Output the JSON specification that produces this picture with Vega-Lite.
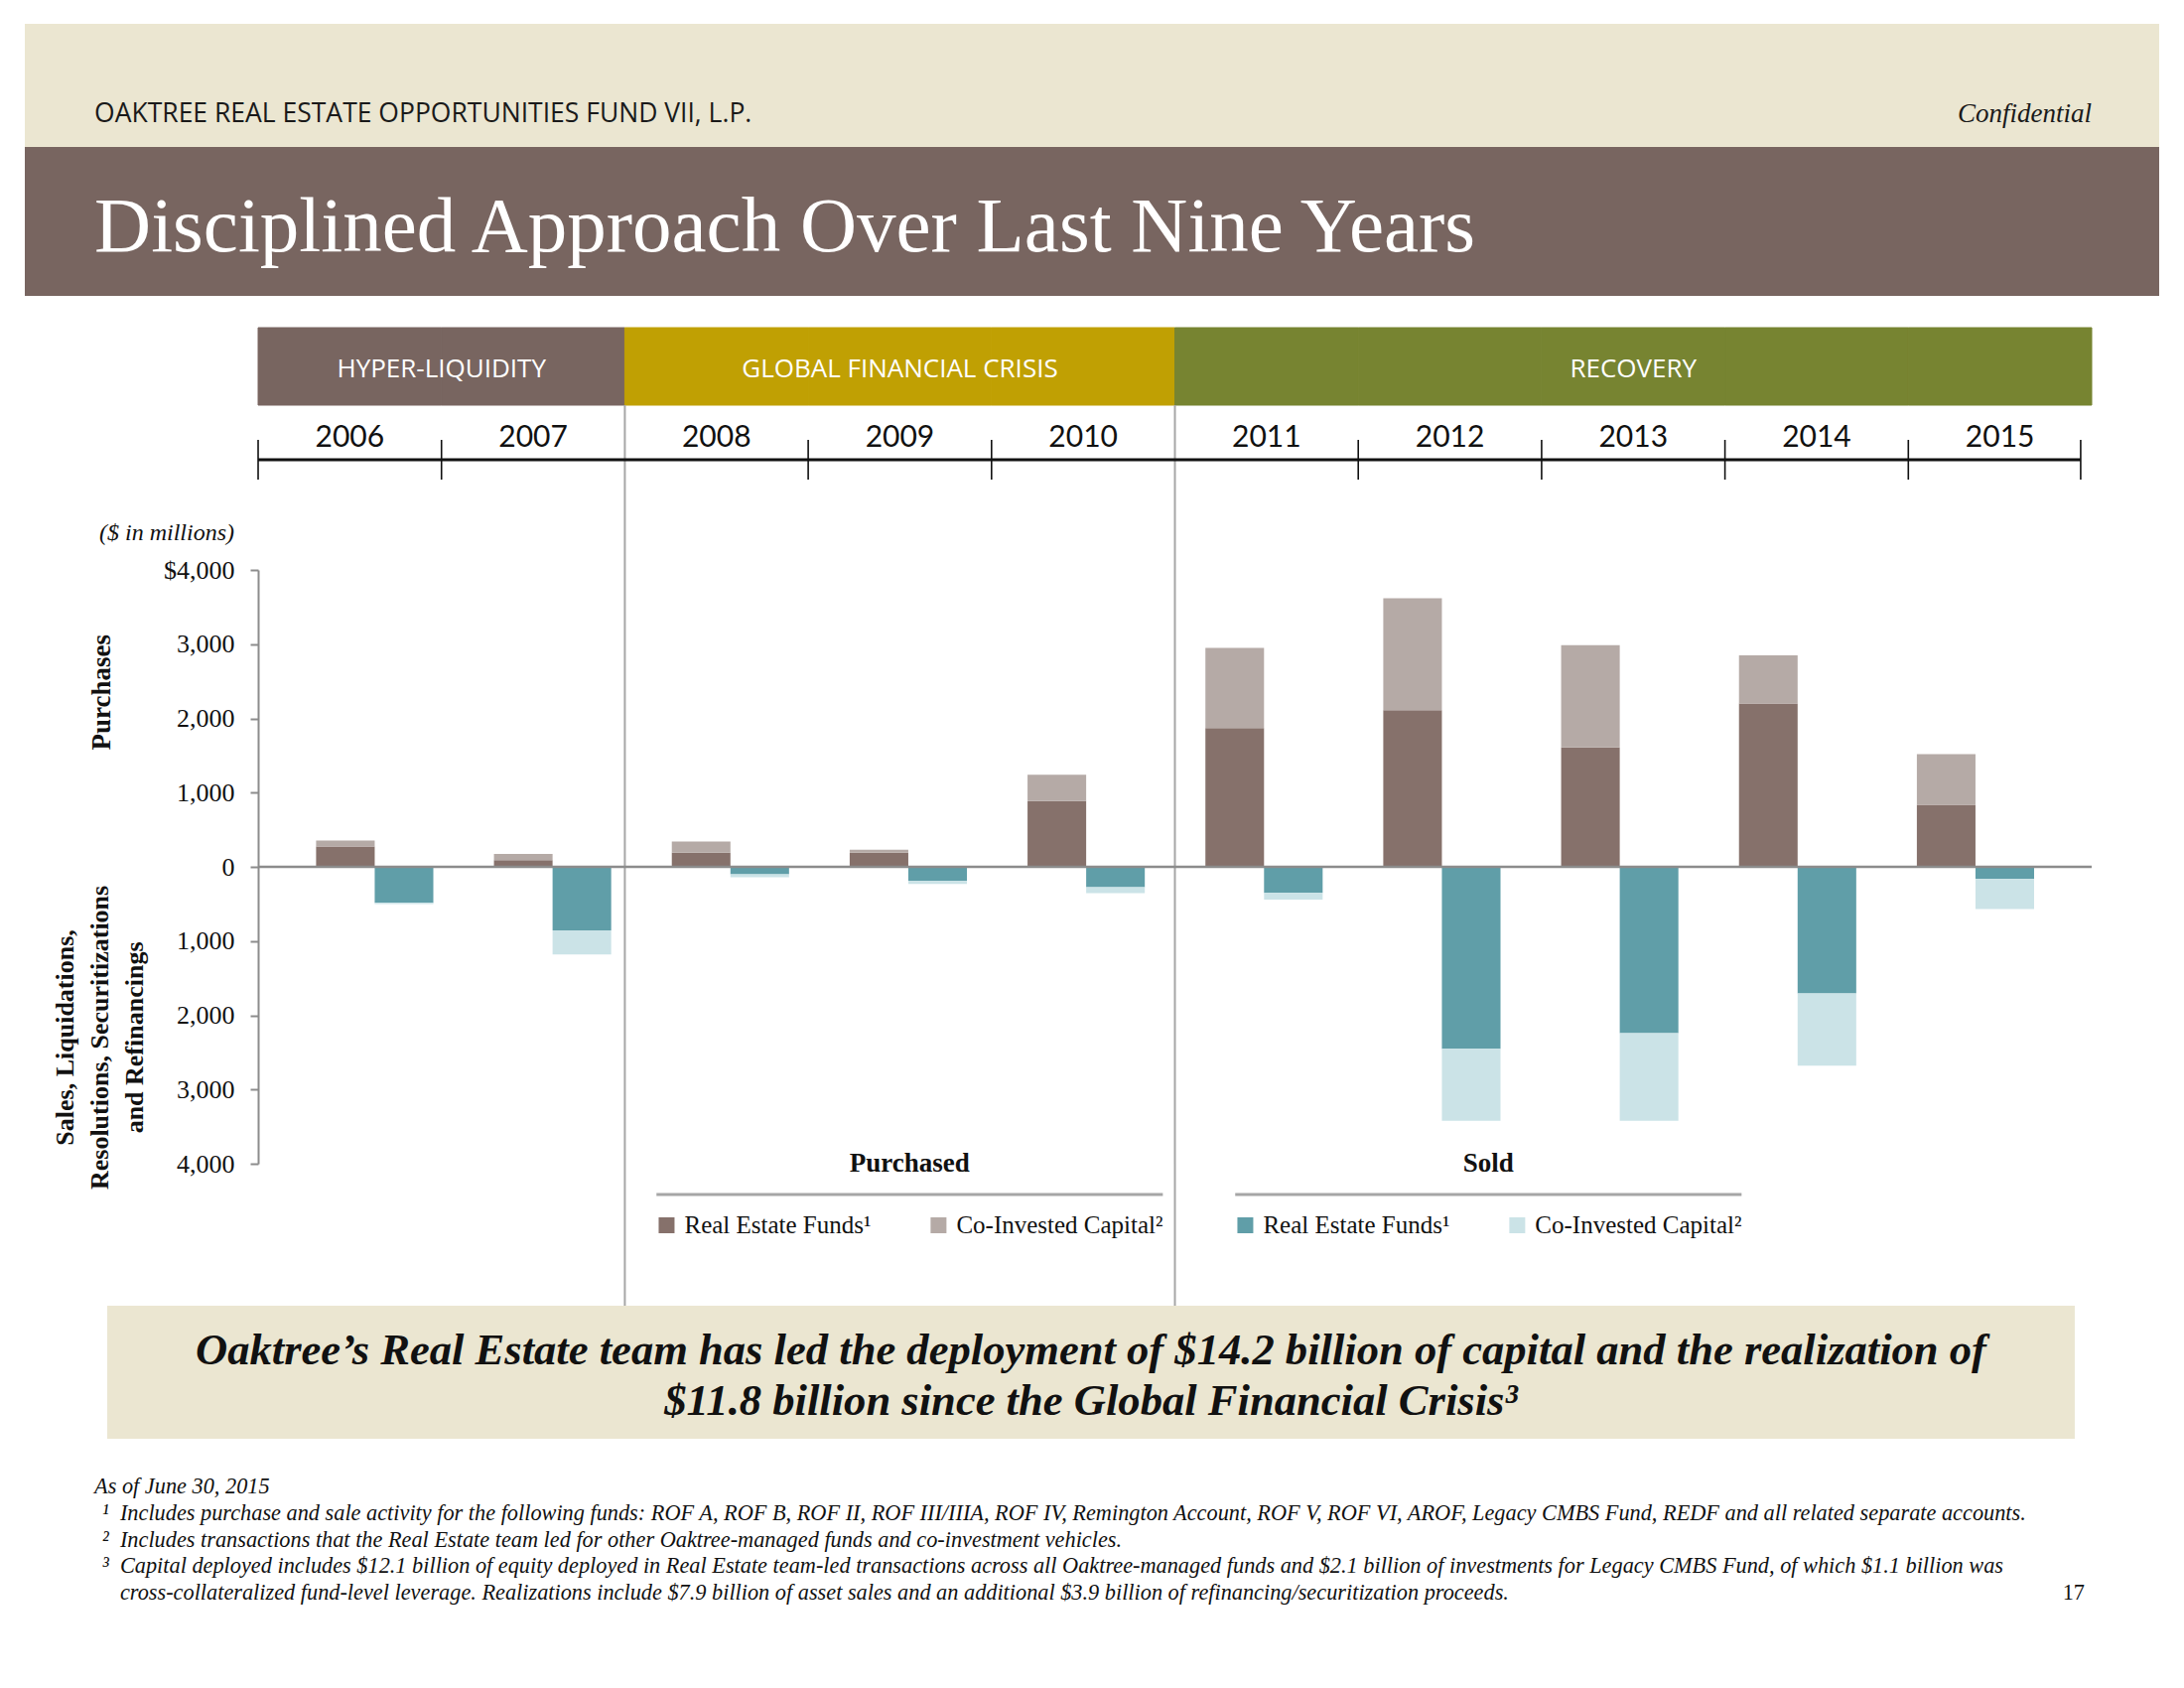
{
  "$schema": "https://vega.github.io/schema/vega-lite/v6.json",
  "background": "white",
  "padding": {"left": 25, "top": 24, "right": 25, "bottom": 48},
  "autosize": {"type": "pad"},
  "spacing": 0,
  "bounds": "flush",
  "config": {"view": {"stroke": null}, "text": {"font": "Liberation Serif"}},
  "resolve": {"scale": {"color": "independent", "stroke": "independent", "xOffset": "independent"}},
  "datasets": {
    "flows": [
      {"year": "2006", "flow": "Purchased", "source": "Real Estate Funds", "series": "Purchased · Real Estate Funds", "value": 275},
      {"year": "2006", "flow": "Purchased", "source": "Co-Invested Capital", "series": "Purchased · Co-Invested Capital", "value": 80},
      {"year": "2006", "flow": "Sold", "source": "Real Estate Funds", "series": "Sold · Real Estate Funds", "value": -485},
      {"year": "2006", "flow": "Sold", "source": "Co-Invested Capital", "series": "Sold · Co-Invested Capital", "value": -15},
      {"year": "2007", "flow": "Purchased", "source": "Real Estate Funds", "series": "Purchased · Real Estate Funds", "value": 90},
      {"year": "2007", "flow": "Purchased", "source": "Co-Invested Capital", "series": "Purchased · Co-Invested Capital", "value": 85},
      {"year": "2007", "flow": "Sold", "source": "Real Estate Funds", "series": "Sold · Real Estate Funds", "value": -855},
      {"year": "2007", "flow": "Sold", "source": "Co-Invested Capital", "series": "Sold · Co-Invested Capital", "value": -325},
      {"year": "2008", "flow": "Purchased", "source": "Real Estate Funds", "series": "Purchased · Real Estate Funds", "value": 190},
      {"year": "2008", "flow": "Purchased", "source": "Co-Invested Capital", "series": "Purchased · Co-Invested Capital", "value": 150},
      {"year": "2008", "flow": "Sold", "source": "Real Estate Funds", "series": "Sold · Real Estate Funds", "value": -100},
      {"year": "2008", "flow": "Sold", "source": "Co-Invested Capital", "series": "Sold · Co-Invested Capital", "value": -40},
      {"year": "2009", "flow": "Purchased", "source": "Real Estate Funds", "series": "Purchased · Real Estate Funds", "value": 190},
      {"year": "2009", "flow": "Purchased", "source": "Co-Invested Capital", "series": "Purchased · Co-Invested Capital", "value": 40},
      {"year": "2009", "flow": "Sold", "source": "Real Estate Funds", "series": "Sold · Real Estate Funds", "value": -190},
      {"year": "2009", "flow": "Sold", "source": "Co-Invested Capital", "series": "Sold · Co-Invested Capital", "value": -40},
      {"year": "2010", "flow": "Purchased", "source": "Real Estate Funds", "series": "Purchased · Real Estate Funds", "value": 885},
      {"year": "2010", "flow": "Purchased", "source": "Co-Invested Capital", "series": "Purchased · Co-Invested Capital", "value": 355},
      {"year": "2010", "flow": "Sold", "source": "Real Estate Funds", "series": "Sold · Real Estate Funds", "value": -275},
      {"year": "2010", "flow": "Sold", "source": "Co-Invested Capital", "series": "Sold · Co-Invested Capital", "value": -80},
      {"year": "2011", "flow": "Purchased", "source": "Real Estate Funds", "series": "Purchased · Real Estate Funds", "value": 1870},
      {"year": "2011", "flow": "Purchased", "source": "Co-Invested Capital", "series": "Purchased · Co-Invested Capital", "value": 1080},
      {"year": "2011", "flow": "Sold", "source": "Real Estate Funds", "series": "Sold · Real Estate Funds", "value": -350},
      {"year": "2011", "flow": "Sold", "source": "Co-Invested Capital", "series": "Sold · Co-Invested Capital", "value": -90},
      {"year": "2012", "flow": "Purchased", "source": "Real Estate Funds", "series": "Purchased · Real Estate Funds", "value": 2110},
      {"year": "2012", "flow": "Purchased", "source": "Co-Invested Capital", "series": "Purchased · Co-Invested Capital", "value": 1510},
      {"year": "2012", "flow": "Sold", "source": "Real Estate Funds", "series": "Sold · Real Estate Funds", "value": -2450},
      {"year": "2012", "flow": "Sold", "source": "Co-Invested Capital", "series": "Sold · Co-Invested Capital", "value": -970},
      {"year": "2013", "flow": "Purchased", "source": "Real Estate Funds", "series": "Purchased · Real Estate Funds", "value": 1610},
      {"year": "2013", "flow": "Purchased", "source": "Co-Invested Capital", "series": "Purchased · Co-Invested Capital", "value": 1375},
      {"year": "2013", "flow": "Sold", "source": "Real Estate Funds", "series": "Sold · Real Estate Funds", "value": -2240},
      {"year": "2013", "flow": "Sold", "source": "Co-Invested Capital", "series": "Sold · Co-Invested Capital", "value": -1180},
      {"year": "2014", "flow": "Purchased", "source": "Real Estate Funds", "series": "Purchased · Real Estate Funds", "value": 2200},
      {"year": "2014", "flow": "Purchased", "source": "Co-Invested Capital", "series": "Purchased · Co-Invested Capital", "value": 650},
      {"year": "2014", "flow": "Sold", "source": "Real Estate Funds", "series": "Sold · Real Estate Funds", "value": -1705},
      {"year": "2014", "flow": "Sold", "source": "Co-Invested Capital", "series": "Sold · Co-Invested Capital", "value": -975},
      {"year": "2015", "flow": "Purchased", "source": "Real Estate Funds", "series": "Purchased · Real Estate Funds", "value": 835},
      {"year": "2015", "flow": "Purchased", "source": "Co-Invested Capital", "series": "Purchased · Co-Invested Capital", "value": 685},
      {"year": "2015", "flow": "Sold", "source": "Real Estate Funds", "series": "Sold · Real Estate Funds", "value": -165},
      {"year": "2015", "flow": "Sold", "source": "Co-Invested Capital", "series": "Sold · Co-Invested Capital", "value": -405}
    ],
    "years": [
      {"year": "2006", "period": "HYPER-LIQUIDITY"},
      {"year": "2007", "period": "HYPER-LIQUIDITY"},
      {"year": "2008", "period": "GLOBAL FINANCIAL CRISIS"},
      {"year": "2009", "period": "GLOBAL FINANCIAL CRISIS"},
      {"year": "2010", "period": "GLOBAL FINANCIAL CRISIS"},
      {"year": "2011", "period": "RECOVERY"},
      {"year": "2012", "period": "RECOVERY"},
      {"year": "2013", "period": "RECOVERY"},
      {"year": "2014", "period": "RECOVERY"},
      {"year": "2015", "period": "RECOVERY"}
    ],
    "ticks": [{"year": "2006"}, {"year": "2007"}, {"year": "2009"}, {"year": "2010"}, {"year": "2012"}, {"year": "2013"}, {"year": "2014"}, {"year": "2015"}],
    "dividers": [{"year": "2008"}, {"year": "2011"}],
    "legendGroups": [{"group": "Purchased"}, {"group": "Sold"}],
    "legendItems": [
      {"group": "Purchased", "source": "Real Estate Funds", "series": "Purchased · Real Estate Funds", "label": "Real Estate Funds¹"},
      {"group": "Purchased", "source": "Co-Invested Capital", "series": "Purchased · Co-Invested Capital", "label": "Co-Invested Capital²"},
      {"group": "Sold", "source": "Real Estate Funds", "series": "Sold · Real Estate Funds", "label": "Real Estate Funds¹"},
      {"group": "Sold", "source": "Co-Invested Capital", "series": "Sold · Co-Invested Capital", "label": "Co-Invested Capital²"}
    ]
  },
  "vconcat": [
    {
      "width": 2150, "height": 58,
      "view": {"fill": "#EBE6D1"},
      "data": {"values": []},
      "mark": "text"
    },
    {
      "width": 2150, "height": 66,
      "view": {"fill": "#EBE6D1"},
      "layer": [
        {
          "data": {"values": [{"label": "OAKTREE REAL ESTATE OPPORTUNITIES FUND VII, L.P."}]},
          "mark": {"type": "text", "align": "left", "baseline": "middle", "font": "Open Sans", "fontSize": 26.5, "color": "#1a1a1a"},
          "encoding": {
            "x": {"datum": "2006", "type": "nominal", "bandPosition": -0.893, "axis": null,
                  "scale": {"type": "band", "domain": ["2006","2007","2008","2009","2010","2011","2012","2013","2014","2015"], "paddingInner": 0, "paddingOuter": 0.8203, "align": 0.7756}},
            "text": {"field": "label"}
          }
        },
        {
          "data": {"values": [{"label": "Confidential"}]},
          "mark": {"type": "text", "align": "right", "baseline": "middle", "font": "Liberation Serif", "fontStyle": "italic", "fontSize": 27, "color": "#1a1a1a"},
          "encoding": {
            "x": {"datum": "2015", "type": "nominal", "bandPosition": 1, "axis": null,
                  "scale": {"type": "band", "domain": ["2006","2007","2008","2009","2010","2011","2012","2013","2014","2015"], "paddingInner": 0, "paddingOuter": 0.8203, "align": 0.7756}},
            "text": {"field": "label"}
          }
        }
      ]
    },
    {
      "width": 2150, "height": 150,
      "view": {"fill": "#786560"},
      "data": {"values": [{"label": "Disciplined Approach Over Last Nine Years"}]},
      "mark": {"type": "text", "align": "left", "baseline": "middle", "dy": 6, "font": "Liberation Serif", "fontSize": 79, "color": "white"},
      "encoding": {
        "x": {"datum": "2006", "type": "nominal", "bandPosition": -0.893, "axis": null,
              "scale": {"type": "band", "domain": ["2006","2007","2008","2009","2010","2011","2012","2013","2014","2015"], "paddingInner": 0, "paddingOuter": 0.8203, "align": 0.7756}},
        "text": {"field": "label"}
      }
    },
    {
      "width": 2150, "height": 32,
      "data": {"values": []},
      "mark": "text"
    },
    {
      "width": 2150, "height": 78,
      "layer": [
        {
          "data": {"name": "years"},
          "mark": {"type": "rect", "strokeWidth": 1},
          "encoding": {
            "x": {"field": "year", "type": "nominal", "axis": null,
                  "scale": {"type": "band", "domain": ["2006","2007","2008","2009","2010","2011","2012","2013","2014","2015"], "paddingInner": 0, "paddingOuter": 0.8203, "align": 0.7756}},
            "color": {"field": "period", "type": "nominal", "legend": null,
                      "scale": {"domain": ["HYPER-LIQUIDITY", "GLOBAL FINANCIAL CRISIS", "RECOVERY"], "range": ["#786560", "#C0A003", "#778431"]}},
            "stroke": {"field": "period", "type": "nominal", "legend": null,
                      "scale": {"domain": ["HYPER-LIQUIDITY", "GLOBAL FINANCIAL CRISIS", "RECOVERY"], "range": ["#786560", "#C0A003", "#778431"]}}
          }
        },
        {
          "data": {"values": [{"period": "HYPER-LIQUIDITY", "at": "2007"}]},
          "mark": {"type": "text", "align": "center", "baseline": "middle", "dy": 3, "font": "Open Sans", "fontSize": 26, "color": "white"},
          "encoding": {
            "x": {"field": "at", "type": "nominal", "bandPosition": 0, "axis": null,
                  "scale": {"type": "band", "domain": ["2006","2007","2008","2009","2010","2011","2012","2013","2014","2015"], "paddingInner": 0, "paddingOuter": 0.8203, "align": 0.7756}},
            "text": {"field": "period"}
          }
        },
        {
          "data": {"values": [{"period": "GLOBAL FINANCIAL CRISIS", "at": "2009"}, {"period": "RECOVERY", "at": "2013"}]},
          "mark": {"type": "text", "align": "center", "baseline": "middle", "dy": 3, "font": "Open Sans", "fontSize": 26, "color": "white"},
          "encoding": {
            "x": {"field": "at", "type": "nominal", "bandPosition": 0.5, "axis": null,
                  "scale": {"type": "band", "domain": ["2006","2007","2008","2009","2010","2011","2012","2013","2014","2015"], "paddingInner": 0, "paddingOuter": 0.8203, "align": 0.7756}},
            "text": {"field": "period"}
          }
        }
      ]
    },
    {
      "width": 2150, "height": 166,
      "layer": [
        {
          "data": {"name": "dividers"},
          "mark": {"type": "rule", "color": "#A6A6A6", "strokeWidth": 2},
          "encoding": {
            "x": {"field": "year", "type": "nominal", "bandPosition": 0, "axis": null,
                  "scale": {"type": "band", "domain": ["2006","2007","2008","2009","2010","2011","2012","2013","2014","2015"], "paddingInner": 0, "paddingOuter": 0.8203, "align": 0.7756}}
          }
        },
        {
          "data": {"name": "ticks"},
          "mark": {"type": "rule", "color": "#111", "strokeWidth": 1.6},
          "encoding": {
            "x": {"field": "year", "type": "nominal", "bandPosition": 0, "axis": null,
                  "scale": {"type": "band", "domain": ["2006","2007","2008","2009","2010","2011","2012","2013","2014","2015"], "paddingInner": 0, "paddingOuter": 0.8203, "align": 0.7756}},
            "y": {"datum": 0.789, "type": "quantitative", "axis": null, "scale": {"domain": [0, 1], "nice": false, "zero": false}},
            "y2": {"datum": 0.548}
          }
        },
        {
          "data": {"values": [{"year": "2015"}]},
          "mark": {"type": "rule", "color": "#111", "strokeWidth": 1.6},
          "encoding": {
            "x": {"field": "year", "type": "nominal", "bandPosition": 0.94, "axis": null,
                  "scale": {"type": "band", "domain": ["2006","2007","2008","2009","2010","2011","2012","2013","2014","2015"], "paddingInner": 0, "paddingOuter": 0.8203, "align": 0.7756}},
            "y": {"datum": 0.789, "type": "quantitative", "axis": null, "scale": {"domain": [0, 1], "nice": false, "zero": false}},
            "y2": {"datum": 0.548}
          }
        },
        {
          "data": {"values": [{"from": "2006", "to": "2015"}]},
          "mark": {"type": "rule", "color": "#111", "strokeWidth": 3},
          "encoding": {
            "x": {"field": "from", "type": "nominal", "bandPosition": 0, "axis": null,
                  "scale": {"type": "band", "domain": ["2006","2007","2008","2009","2010","2011","2012","2013","2014","2015"], "paddingInner": 0, "paddingOuter": 0.8203, "align": 0.7756}},
            "x2": {"field": "to", "bandPosition": 0.94},
            "y": {"datum": 0.669, "type": "quantitative", "axis": null, "scale": {"domain": [0, 1], "nice": false, "zero": false}}
          }
        },
        {
          "data": {"name": "years"},
          "mark": {"type": "text", "align": "center", "baseline": "alphabetic", "font": "Lato", "fontSize": 30, "color": "#111"},
          "encoding": {
            "x": {"field": "year", "type": "nominal", "bandPosition": 0.5, "axis": null,
                  "scale": {"type": "band", "domain": ["2006","2007","2008","2009","2010","2011","2012","2013","2014","2015"], "paddingInner": 0, "paddingOuter": 0.8203, "align": 0.7756}},
            "y": {"datum": 0.747, "type": "quantitative", "axis": null, "scale": {"domain": [0, 1], "nice": false, "zero": false}},
            "text": {"field": "year"}
          }
        },
        {
          "data": {"values": [{"label": "($ in millions)"}]},
          "mark": {"type": "text", "align": "center", "baseline": "middle", "font": "Liberation Serif", "fontStyle": "italic", "fontSize": 24, "color": "#111"},
          "encoding": {
            "x": {"datum": "2006", "type": "nominal", "bandPosition": -0.498, "axis": null,
                  "scale": {"type": "band", "domain": ["2006","2007","2008","2009","2010","2011","2012","2013","2014","2015"], "paddingInner": 0, "paddingOuter": 0.8203, "align": 0.7756}},
            "y": {"datum": 0.223, "type": "quantitative", "axis": null, "scale": {"domain": [0, 1], "nice": false, "zero": false}},
            "text": {"field": "label"}
          }
        }
      ]
    },
    {
      "width": 2150, "height": 598,
      "resolve": {"scale": {"x": "independent"}},
      "layer": [
        {
          "data": {"name": "dividers"},
          "mark": {"type": "rule", "color": "#A6A6A6", "strokeWidth": 2},
          "encoding": {
            "x": {"field": "year", "type": "nominal", "bandPosition": 0, "axis": null,
                  "scale": {"type": "band", "domain": ["2006","2007","2008","2009","2010","2011","2012","2013","2014","2015"], "paddingInner": 0, "paddingOuter": 0.8203, "align": 0.7756}}
          }
        },
        {
          "data": {"name": "flows"},
          "mark": {"type": "bar"},
          "encoding": {
            "x": {"field": "year", "type": "nominal", "axis": null,
                  "scale": {"type": "band", "domain": ["2006","2007","2008","2009","2010","2011","2012","2013","2014","2015"], "paddingInner": 0, "paddingOuter": 1, "align": 0.7336}},
            "xOffset": {"field": "flow", "type": "nominal", "scale": {"domain": ["Purchased", "Sold"], "paddingInner": 0, "paddingOuter": 0.517}},
            "y": {"field": "value", "type": "quantitative", "stack": "zero",
                  "scale": {"domain": [-4000, 4000], "nice": false},
                  "axis": {"orient": "left", "offset": -235, "title": null, "grid": false,
                           "values": [-4000, -3000, -2000, -1000, 0, 1000, 2000, 3000, 4000],
                           "labelExpr": "datum.value == 4000 ? '$4,000' : format(abs(datum.value), ',')",
                           "domainColor": "#8C8C8C", "domainWidth": 2, "tickColor": "#8C8C8C", "tickWidth": 2, "tickSize": 8,
                           "labelFont": "Liberation Serif", "labelFontSize": 26, "labelColor": "#111", "labelPadding": 16}},
            "color": {"field": "series", "type": "nominal", "legend": null,
                      "scale": {"domain": ["Purchased · Real Estate Funds", "Purchased · Co-Invested Capital", "Sold · Real Estate Funds", "Sold · Co-Invested Capital"],
                                "range": ["#86716B", "#B5AAA6", "#609EA8", "#CBE3E7"]}},
            "order": {"field": "source", "sort": "descending"}
          }
        },
        {
          "data": {"values": [{"from": "2006", "to": "2015"}]},
          "mark": {"type": "rule", "color": "#8C8C8C", "strokeWidth": 2.5},
          "encoding": {
            "x": {"field": "from", "type": "nominal", "bandPosition": 0, "axis": null,
                  "scale": {"type": "band", "domain": ["2006","2007","2008","2009","2010","2011","2012","2013","2014","2015"], "paddingInner": 0, "paddingOuter": 0.8203, "align": 0.7756}},
            "x2": {"field": "to", "bandPosition": 1},
            "y": {"datum": 0, "type": "quantitative"}
          }
        },
        {
          "data": {"values": [{"label": "Purchases", "at": 2350}]},
          "mark": {"type": "text", "angle": 270, "align": "center", "baseline": "middle", "font": "Liberation Serif", "fontWeight": "bold", "fontSize": 27, "color": "#111"},
          "encoding": {
            "x": {"datum": "2006", "type": "nominal", "bandPosition": -0.85, "axis": null,
                  "scale": {"type": "band", "domain": ["2006","2007","2008","2009","2010","2011","2012","2013","2014","2015"], "paddingInner": 0, "paddingOuter": 0.8203, "align": 0.7756}},
            "y": {"field": "at", "type": "quantitative"},
            "text": {"field": "label"}
          }
        },
        {
          "data": {"values": [{"at": -2300}]},
          "mark": {"type": "text", "angle": 270, "align": "center", "baseline": "middle", "font": "Liberation Serif", "fontWeight": "bold", "fontSize": 26, "lineHeight": 35, "color": "#111"},
          "encoding": {
            "x": {"datum": "2006", "type": "nominal", "bandPosition": -1.05, "axis": null,
                  "scale": {"type": "band", "domain": ["2006","2007","2008","2009","2010","2011","2012","2013","2014","2015"], "paddingInner": 0, "paddingOuter": 0.8203, "align": 0.7756}},
            "y": {"field": "at", "type": "quantitative"},
            "text": {"value": ["Sales, Liquidations,", "Resolutions, Securitizations", "and Refinancings"]}
          }
        }
      ]
    },
    {
      "width": 2150, "height": 143,
      "resolve": {"scale": {"x": "independent"}},
      "layer": [
        {
          "data": {"name": "dividers"},
          "mark": {"type": "rule", "color": "#A6A6A6", "strokeWidth": 2},
          "encoding": {
            "x": {"field": "year", "type": "nominal", "bandPosition": 0, "axis": null,
                  "scale": {"type": "band", "domain": ["2006","2007","2008","2009","2010","2011","2012","2013","2014","2015"], "paddingInner": 0, "paddingOuter": 0.8203, "align": 0.7756}}
          }
        },
        {
          "data": {"name": "legendGroups"},
          "mark": {"type": "text", "align": "center", "baseline": "middle", "font": "Liberation Serif", "fontWeight": "bold", "fontSize": 27, "color": "#111"},
          "encoding": {
            "x": {"field": "group", "type": "nominal", "axis": null,
                  "scale": {"type": "band", "domain": ["Purchased", "Sold"], "paddingInner": 0.125, "paddingOuter": 0.9065, "align": 0.602}},
            "y": {"datum": "title", "type": "nominal", "axis": null,
                  "scale": {"type": "point", "domain": ["title", "rule", "item", "pad"], "padding": 0.806, "align": 0}},
            "text": {"field": "group"}
          }
        },
        {
          "data": {"name": "legendGroups"},
          "mark": {"type": "rule", "color": "#A6A6A6", "strokeWidth": 3},
          "encoding": {
            "x": {"field": "group", "type": "nominal", "bandPosition": 0, "axis": null,
                  "scale": {"type": "band", "domain": ["Purchased", "Sold"], "paddingInner": 0.125, "paddingOuter": 0.9065, "align": 0.602}},
            "x2": {"field": "group", "bandPosition": 1},
            "y": {"datum": "rule", "type": "nominal", "axis": null,
                  "scale": {"type": "point", "domain": ["title", "rule", "item", "pad"], "padding": 0.806, "align": 0}}
          }
        },
        {
          "data": {"name": "legendItems"},
          "transform": [{"filter": "datum.source == 'Real Estate Funds'"}],
          "mark": {"type": "point", "shape": "square", "filled": true, "size": 256, "opacity": 1},
          "encoding": {
            "x": {"field": "group", "type": "nominal", "bandPosition": 0.02, "axis": null,
                  "scale": {"type": "band", "domain": ["Purchased", "Sold"], "paddingInner": 0.125, "paddingOuter": 0.9065, "align": 0.602}},
            "y": {"datum": "item", "type": "nominal", "axis": null,
                  "scale": {"type": "point", "domain": ["title", "rule", "item", "pad"], "padding": 0.806, "align": 0}},
            "color": {"field": "series", "type": "nominal", "legend": null,
                      "scale": {"domain": ["Purchased · Real Estate Funds", "Purchased · Co-Invested Capital", "Sold · Real Estate Funds", "Sold · Co-Invested Capital"],
                                "range": ["#86716B", "#B5AAA6", "#609EA8", "#CBE3E7"]}}
          }
        },
        {
          "data": {"name": "legendItems"},
          "transform": [{"filter": "datum.source == 'Co-Invested Capital'"}],
          "mark": {"type": "point", "shape": "square", "filled": true, "size": 256, "opacity": 1},
          "encoding": {
            "x": {"field": "group", "type": "nominal", "bandPosition": 0.557, "axis": null,
                  "scale": {"type": "band", "domain": ["Purchased", "Sold"], "paddingInner": 0.125, "paddingOuter": 0.9065, "align": 0.602}},
            "y": {"datum": "item", "type": "nominal", "axis": null,
                  "scale": {"type": "point", "domain": ["title", "rule", "item", "pad"], "padding": 0.806, "align": 0}},
            "color": {"field": "series", "type": "nominal", "legend": null,
                      "scale": {"domain": ["Purchased · Real Estate Funds", "Purchased · Co-Invested Capital", "Sold · Real Estate Funds", "Sold · Co-Invested Capital"],
                                "range": ["#86716B", "#B5AAA6", "#609EA8", "#CBE3E7"]}}
          }
        },
        {
          "data": {"name": "legendItems"},
          "transform": [{"filter": "datum.source == 'Real Estate Funds'"}],
          "mark": {"type": "text", "align": "left", "baseline": "middle", "dx": 18, "font": "Liberation Serif", "fontSize": 25, "color": "#111"},
          "encoding": {
            "x": {"field": "group", "type": "nominal", "bandPosition": 0.02, "axis": null,
                  "scale": {"type": "band", "domain": ["Purchased", "Sold"], "paddingInner": 0.125, "paddingOuter": 0.9065, "align": 0.602}},
            "y": {"datum": "item", "type": "nominal", "axis": null,
                  "scale": {"type": "point", "domain": ["title", "rule", "item", "pad"], "padding": 0.806, "align": 0}},
            "text": {"field": "label"}
          }
        },
        {
          "data": {"name": "legendItems"},
          "transform": [{"filter": "datum.source == 'Co-Invested Capital'"}],
          "mark": {"type": "text", "align": "left", "baseline": "middle", "dx": 18, "font": "Liberation Serif", "fontSize": 25, "color": "#111"},
          "encoding": {
            "x": {"field": "group", "type": "nominal", "bandPosition": 0.557, "axis": null,
                  "scale": {"type": "band", "domain": ["Purchased", "Sold"], "paddingInner": 0.125, "paddingOuter": 0.9065, "align": 0.602}},
            "y": {"datum": "item", "type": "nominal", "axis": null,
                  "scale": {"type": "point", "domain": ["title", "rule", "item", "pad"], "padding": 0.806, "align": 0}},
            "text": {"field": "label"}
          }
        }
      ]
    },
    {
      "width": 2150, "height": 134,
      "layer": [
        {
          "data": {"values": [{"box": "callout"}]},
          "mark": {"type": "rect", "color": "#EBE6D1"},
          "encoding": {
            "x": {"field": "box", "type": "nominal", "axis": null,
                  "scale": {"type": "band", "domain": ["callout"], "paddingInner": 0, "paddingOuter": 0.0424, "align": 0.494}}
          }
        },
        {
          "data": {"values": [
            {"box": "callout", "line": 0, "text": "Oaktree’s Real Estate team has led the deployment of $14.2 billion of capital and the realization of"},
            {"box": "callout", "line": 1, "text": "$11.8 billion since the Global Financial Crisis³"}
          ]},
          "mark": {"type": "text", "align": "center", "baseline": "middle", "font": "Liberation Serif", "fontWeight": "bold", "fontStyle": "italic", "fontSize": 44.6, "color": "#111"},
          "encoding": {
            "x": {"field": "box", "type": "nominal", "axis": null,
                  "scale": {"type": "band", "domain": ["callout"], "paddingInner": 0, "paddingOuter": 0.0424, "align": 0.494}},
            "y": {"field": "line", "type": "quantitative", "axis": null, "scale": {"domain": [-0.902, 1.725], "reverse": true, "nice": false, "zero": false}},
            "text": {"field": "text"}
          }
        }
      ]
    },
    {
      "width": 2150, "height": 203,
      "layer": [
        {
          "data": {"values": [{"line": 0, "text": "As of June 30, 2015"}]},
          "mark": {"type": "text", "align": "left", "baseline": "middle", "font": "Liberation Serif", "fontStyle": "italic", "fontSize": 22.3, "color": "#111"},
          "encoding": {
            "x": {"datum": "2006", "type": "nominal", "bandPosition": -0.893, "axis": null,
                  "scale": {"type": "band", "domain": ["2006","2007","2008","2009","2010","2011","2012","2013","2014","2015"], "paddingInner": 0, "paddingOuter": 0.8203, "align": 0.7756}},
            "y": {"field": "line", "type": "quantitative", "axis": null, "scale": {"domain": [-1.794, 5.794], "reverse": true, "nice": false, "zero": false}},
            "text": {"field": "text"}
          }
        },
        {
          "data": {"values": [{"line": 1, "text": "¹"}, {"line": 2, "text": "²"}, {"line": 3, "text": "³"}]},
          "mark": {"type": "text", "align": "left", "baseline": "middle", "font": "Liberation Serif", "fontStyle": "italic", "fontSize": 22.3, "color": "#111"},
          "encoding": {
            "x": {"datum": "2006", "type": "nominal", "bandPosition": -0.85, "axis": null,
                  "scale": {"type": "band", "domain": ["2006","2007","2008","2009","2010","2011","2012","2013","2014","2015"], "paddingInner": 0, "paddingOuter": 0.8203, "align": 0.7756}},
            "y": {"field": "line", "type": "quantitative", "axis": null, "scale": {"domain": [-1.794, 5.794], "reverse": true, "nice": false, "zero": false}},
            "text": {"field": "text"}
          }
        },
        {
          "data": {"values": [
            {"line": 1, "text": "Includes purchase and sale activity for the following funds: ROF A, ROF B, ROF II, ROF III/IIIA, ROF IV, Remington Account, ROF V, ROF VI, AROF, Legacy CMBS Fund, REDF and all related separate accounts."},
            {"line": 2, "text": "Includes transactions that the Real Estate team led for other Oaktree-managed funds and co-investment vehicles."},
            {"line": 3, "text": "Capital deployed includes $12.1 billion of equity deployed in Real Estate team-led transactions across all Oaktree-managed funds and $2.1 billion of investments for Legacy CMBS Fund, of which $1.1 billion was"},
            {"line": 4, "text": "cross-collateralized fund-level leverage.  Realizations include $7.9 billion of asset sales and an additional $3.9 billion of refinancing/securitization proceeds."}
          ]},
          "mark": {"type": "text", "align": "left", "baseline": "middle", "font": "Liberation Serif", "fontStyle": "italic", "fontSize": 22.3, "color": "#111"},
          "encoding": {
            "x": {"datum": "2006", "type": "nominal", "bandPosition": -0.753, "axis": null,
                  "scale": {"type": "band", "domain": ["2006","2007","2008","2009","2010","2011","2012","2013","2014","2015"], "paddingInner": 0, "paddingOuter": 0.8203, "align": 0.7756}},
            "y": {"field": "line", "type": "quantitative", "axis": null, "scale": {"domain": [-1.794, 5.794], "reverse": true, "nice": false, "zero": false}},
            "text": {"field": "text"}
          }
        },
        {
          "data": {"values": [{"line": 4, "text": "17"}]},
          "mark": {"type": "text", "align": "right", "baseline": "middle", "font": "Liberation Serif", "fontSize": 22.3, "color": "#111"},
          "encoding": {
            "x": {"datum": "2015", "type": "nominal", "bandPosition": 0.962, "axis": null,
                  "scale": {"type": "band", "domain": ["2006","2007","2008","2009","2010","2011","2012","2013","2014","2015"], "paddingInner": 0, "paddingOuter": 0.8203, "align": 0.7756}},
            "y": {"field": "line", "type": "quantitative", "axis": null, "scale": {"domain": [-1.794, 5.794], "reverse": true, "nice": false, "zero": false}},
            "text": {"field": "text"}
          }
        }
      ]
    }
  ]
}
